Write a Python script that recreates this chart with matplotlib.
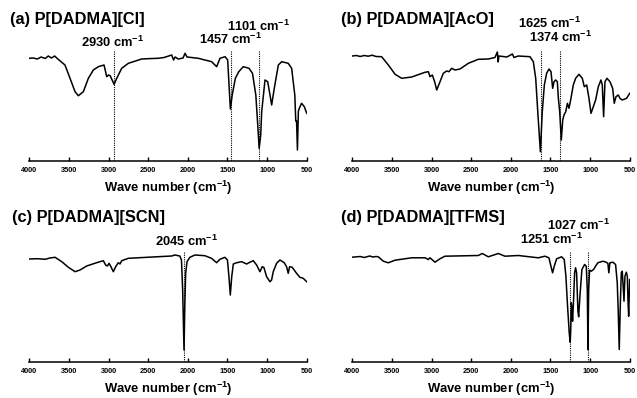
import matplotlib
matplotlib.use('Agg')
import matplotlib.pyplot as plt

plt.rcParams['font.family'] = ['Liberation Sans', 'DejaVu Sans']
plt.rcParams['font.weight'] = 'bold'
plt.rcParams['mathtext.fontset'] = 'custom'
plt.rcParams['mathtext.rm'] = 'Liberation Sans:bold'
plt.rcParams['mathtext.bf'] = 'Liberation Sans:bold'
plt.rcParams['mathtext.default'] = 'bf'

# FTIR spectra (wavenumber in cm-1, transmittance in a.u.)
wn_cl = [4000, 3950, 3900, 3850, 3800, 3760, 3720, 3680, 3640, 3550, 3486, 3423, 3381, 3318,
         3255, 3192, 3129, 3057, 3023, 3000, 2980, 2930, 2897, 2834, 2750, 2582, 2450, 2372,
         2300, 2203, 2180, 2160, 2120, 2060, 2035, 2010, 1868, 1700, 1636, 1594, 1530, 1497,
         1480, 1463, 1440, 1400, 1357, 1300, 1228, 1184, 1142, 1115, 1100, 1080, 1068, 1026,
         992, 963, 942, 909, 858, 815, 733, 690, 650, 638, 628, 617, 605, 585, 564, 530, 500]
t_cl = [102.7, 103, 102, 104, 102.5, 105, 103, 105, 102, 96, 82.7, 69.3, 65.3, 69.3,
        82.7, 91, 94.3, 96, 84.3, 86, 85.3, 76.7, 82.7, 92.7, 97.7, 102, 102.5, 102.7,
        103.5, 106, 101, 104, 102, 103, 107.7, 104, 102.7, 99.3, 94.3, 102.7, 104.3, 101,
        76, 52, 66, 82.7, 89.3, 94.3, 92.7, 87.7, 66, 32.7, 12.7, 26, 49.3, 81,
        79.3, 66, 56, 72.7, 96, 99.3, 97.7, 92.7, 66, 40, 40, 11, 50, 54.3, 57.7, 54.3, 47.7]

wn_aco = [4000, 3950, 3900, 3850, 3800, 3750, 3700, 3630, 3545, 3460, 3377, 3250, 3083, 3040,
          3020, 2990, 2960, 2935, 2893, 2852, 2810, 2780, 2746, 2704, 2641, 2536, 2410, 2284,
          2200, 2170, 2160, 2150, 2050, 1980, 1960, 1906, 1758, 1716, 1686, 1660, 1627, 1603,
          1577, 1548, 1518, 1493, 1472, 1455, 1434, 1413, 1400, 1383, 1363, 1345, 1329, 1307,
          1286, 1266, 1241, 1212, 1182, 1140, 1098, 1073, 1042, 1014, 988, 959, 930, 896,
          863, 846, 829, 812, 787, 749, 715, 695, 673, 644, 623, 594, 539, 500]
t_aco = [105, 105.5, 104.5, 105.5, 104.8, 105.8, 104.5, 104.3, 96, 86.7, 82.7, 84, 88.7, 89.3,
         84.3, 86, 79, 71, 79.3, 87.7, 90, 89.3, 92.7, 91, 92, 97.7, 101.7, 102,
         103.5, 109, 99, 105, 104, 107, 103.5, 105, 104.3, 99.3, 82.7, 49.3, 9.3, 49.3,
         76, 87.7, 92, 89.3, 72.7, 79.3, 81, 79.3, 62.7, 49.3, 21, 41, 46, 49.3,
         57.7, 52.7, 62.7, 76, 82.7, 86.7, 82.7, 74.3, 76, 62.7, 47.7, 54.3, 61, 74.3,
         81, 76, 44.3, 79.3, 82.7, 79.3, 72.7, 57.7, 64.3, 66, 62.7, 61, 62.7, 67.7]

wn_scn = [4000, 3900, 3800, 3740, 3675, 3590, 3507, 3423, 3360, 3276, 3150, 3066, 3037, 3015,
          2994, 2970, 2940, 2910, 2877, 2856, 2834, 2750, 2372, 2203, 2164, 2101, 2080, 2065,
          2048, 2038, 2027, 2010, 1974, 1911, 1785, 1701, 1637, 1595, 1532, 1500, 1481, 1464,
          1446, 1426, 1384, 1321, 1258, 1228, 1174, 1132, 1090, 1061, 1040, 1006, 964, 943,
          922, 880, 838, 784, 754, 733, 716, 683, 628, 586, 544, 500]
t_scn = [102.5, 102.8, 102.2, 103.5, 104.2, 99.8, 94.2, 89.8, 91.5, 95.5, 98.8, 100.8, 96.5, 95.5,
         98.2, 94.8, 89.8, 94.8, 98.8, 97.5, 100.8, 103.2, 104.8, 105.5, 106.5, 105.5, 101.5, 71.5,
         11.5, 56.5, 88.2, 99.8, 104.2, 106.5, 105.8, 103.2, 98.8, 102.2, 104.2, 101.5, 84.8, 66.5,
         84.8, 97.5, 98.8, 99.8, 97.5, 98.8, 100.8, 96.5, 89.8, 94.8, 94, 84.8, 79.8, 81.5,
         89.8, 98.2, 101.5, 98.8, 94.8, 88.2, 94.8, 94.2, 88.2, 84.2, 83.2, 79.8]

wn_tfms = [4000, 3900, 3850, 3780, 3740, 3700, 3672, 3609, 3546, 3461, 3251, 3083, 3041, 3020,
           2957, 2894, 2831, 2410, 2360, 2284, 2158, 2074, 1906, 1654, 1569, 1519, 1494, 1473,
           1452, 1422, 1359, 1326, 1305, 1284, 1263, 1251, 1244, 1237, 1229, 1221, 1208, 1195,
           1183, 1170, 1153, 1144, 1128, 1103, 1069, 1048, 1035, 1027, 1018, 1006, 985, 956,
           931, 902, 839, 796, 775, 763, 750, 712, 678, 657, 644, 632, 619, 606, 594, 585,
           572, 560, 543, 530, 522, 513, 501]
t_tfms = [104.3, 105, 104, 105.5, 104.5, 105, 104.7, 100.3, 98.7, 101.3, 103.7, 103.7, 102, 103.7,
          99.3, 102.7, 105.3, 106, 108, 104.7, 108, 105.3, 106, 103.7, 105.3, 103.7, 95.3, 88.7,
          95.3, 102.7, 104.7, 102, 85.3, 55.3, 28.7, 19.3, 32, 58.7, 53.7, 40.3, 62, 88.7,
          93.7, 88.7, 50.3, 44.7, 65.3, 92, 97, 95.3, 72, 12, 72, 91.3, 90.3, 92,
          95.3, 98.7, 100.3, 99.3, 98, 88.7, 98.7, 99.3, 97, 78.7, 48.7, 12, 55.3, 88.7, 90.3, 78.7,
          60.3, 85.3, 89.3, 85.3, 62, 45.3, 82]

titles = ['(a) P[DADMA][Cl]', '(b) P[DADMA][AcO]', '(c) P[DADMA][SCN]', '(d) P[DADMA][TFMS]']
peaks_cl = [2930, 1457, 1101]
peaks_aco = [1625, 1374]
peaks_scn = [2045]
peaks_tfms = [1251, 1027]
ticks = [4000, 3500, 3000, 2500, 2000, 1500, 1000, 500]


def draw_panel(fig, rect, title, title_xy, wn, t, peaks, label_pos):
    ax = fig.add_axes(rect)
    ax.plot(wn, t, color='black', lw=1.1)
    for p, (lx, ly) in zip(peaks, label_pos):
        ax.plot([p, p], [0, 111], color='black', lw=0.8, ls=(0, (1, 1)))
        ax.text(lx, ly, str(p) + ' cm$^{-1}$', ha='center', va='baseline',
                fontsize=9.3, fontweight='bold', clip_on=False)
    ax.set_xlim(4000, 500)
    ax.set_ylim(0, 120)
    for s in ['left', 'right', 'top']:
        ax.spines[s].set_visible(False)
    ax.spines['bottom'].set_linewidth(1.1)
    ax.set_yticks([])
    ax.set_xticks(ticks)
    ax.tick_params(axis='x', direction='in', length=3, width=1, labelsize=5.3, pad=4.5)
    for lab in ax.get_xticklabels():
        lab.set_fontweight('bold')
    ax.set_xlabel('Wave number (cm$^{-1}$)', fontsize=9.4, fontweight='bold', labelpad=3.5)
    fig.text(title_xy[0] / 637, 1 - title_xy[1] / 398, title, fontsize=11.8,
             fontweight='bold', ha='left', va='baseline')
    return ax


fig = plt.figure(figsize=(6.37, 3.98), dpi=100)
w = 277.4 / 637
h = 120 / 398
draw_panel(fig, [29.3 / 637, 1 - 161 / 398, w, h], titles[0], (10, 24),
           wn_cl, t_cl, peaks_cl, [(2944, 114.3), (1455, 116.7), (1108, 130.3)])
draw_panel(fig, [352.3 / 637, 1 - 161 / 398, w, h], titles[1], (340.7, 24),
           wn_aco, t_aco, peaks_aco, [(1512, 132.5), (1367, 118.7)])
draw_panel(fig, [29.3 / 637, 1 - 361.5 / 398, w, h], titles[2], (11.7, 222),
           wn_scn, t_scn, peaks_scn, [(2010, 115.2)])
draw_panel(fig, [352.3 / 637, 1 - 361.5 / 398, w, h], titles[3], (340.7, 222),
           wn_tfms, t_tfms, peaks_tfms, [(1487, 117.3), (1146, 131.5)])

plt.savefig('out.png', dpi=100)
plt.close()
